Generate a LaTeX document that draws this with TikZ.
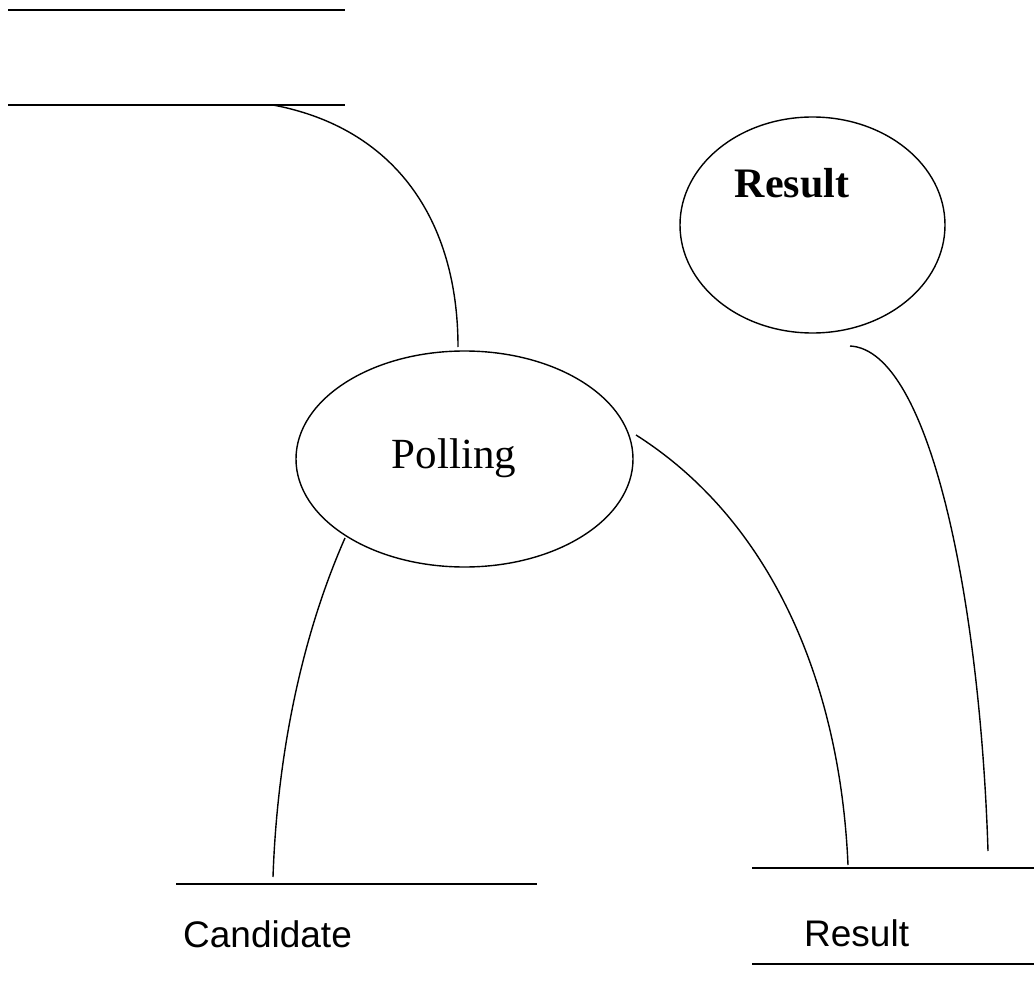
\documentclass[tikz,border=0pt]{standalone}
\usepackage{fontspec}
\setmainfont{Liberation Serif}
\newfontfamily\arialfont{Liberation Sans}
\usetikzlibrary{shapes.geometric}
\begin{document}
\begin{tikzpicture}[x=1pt,y=-1pt,
  proc/.style={draw,ellipse,line width=1.4pt,inner sep=0pt},
  storeline/.style={line width=2pt},
  flow/.style={line width=1.4pt},
  lbl/.style={inner sep=0pt,anchor=base}]
\useasboundingbox (0,0) rectangle (1034,987);
% process bubbles
\node[proc,minimum width=337pt,minimum height=216pt] (polling) at (464.5,459) {};
\node[lbl,font=\fontsize{43}{50}\selectfont] (pollingtxt) at (454,468) {Polling};
\node[proc,minimum width=265pt,minimum height=216pt] (result) at (812.5,225) {};
\node[lbl,font=\bfseries\fontsize{42}{50}\selectfont] (resulttxt) at (792,198) {Result};
% data stores
\coordinate (t1a) at (8,10); \coordinate (t1b) at (345,10);
\coordinate (t2a) at (8,105); \coordinate (t2b) at (345,105);
\draw[storeline] (t1a) -- (t1b);
\draw[storeline] (t2a) -- (t2b);
\coordinate (ca) at (176,884); \coordinate (cb) at (537,884);
\draw[storeline] (ca) -- (cb);
\node[lbl,anchor=base west,font=\arialfont\fontsize{37}{44}\selectfont] (candtxt) at (183,947) {Candidate};
\coordinate (ra) at (752,868); \coordinate (rb) at (1034,868);
\coordinate (rc) at (752,964); \coordinate (rd) at (1034,964);
\draw[storeline] (ra) -- (rb);
\draw[storeline] (rc) -- (rd);
\node[lbl,anchor=base west,font=\arialfont\fontsize{37}{44}\selectfont] (restxt) at (804,946) {Result};
% flows
\coordinate (f1s) at (273,105); \coordinate (f1e) at (458,347);
\draw[flow] (f1s) .. controls (395,128) and (458,220) .. (f1e);
\coordinate (f2s) at (345,538); \coordinate (f2e) at (273,877);
\draw[flow] (f2s) .. controls (300,640) and (277,760) .. (f2e);
\coordinate (f3s) at (636,435); \coordinate (f3e) at (848,865);
\draw[flow] (f3s) .. controls (770,520) and (840,680) .. (f3e);
\coordinate (f4s) at (850,346); \coordinate (f4e) at (988,851);
\draw[flow] (f4s) .. controls (930,350) and (980,600) .. (f4e);
\end{tikzpicture}
\end{document}
